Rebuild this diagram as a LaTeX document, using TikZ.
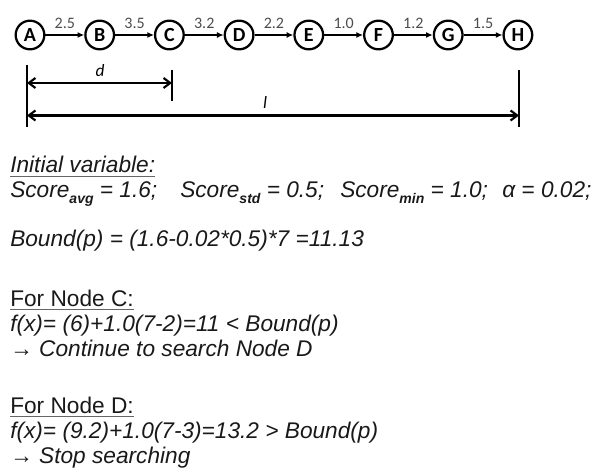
\documentclass[tikz,border=0pt]{standalone}
\usepackage{fontspec}
\setmainfont{Liberation Sans}
\newfontfamily\calibri{Carlito}
\usetikzlibrary{arrows.meta}

\newcommand\scoresub[1]{\raisebox{-4pt}{\fontsize{10.5}{10.5}\selectfont\bfseries #1}}

\begin{document}
\begin{tikzpicture}[
    x=0.75pt, y=-0.75pt,
    station/.style={circle, draw, line width=1.7pt, minimum size=21.5pt, inner sep=0pt, font=\calibri\bfseries\fontsize{15}{15}\selectfont},
    hop/.style={-{Latex[length=5pt,width=4.5pt]}, line width=1pt},
    weight/.style={inner sep=0pt, text=black!70, font=\calibri\fontsize{12}{12}\selectfont},
    dim/.style={{Straight Barb[length=5pt,width=7.5pt]}-{Straight Barb[length=5pt,width=7.5pt]}, line width=1.6pt},
    bar/.style={line width=1.7pt},
    dimlabel/.style={inner sep=0pt, font=\calibri\itshape\fontsize{13}{13}\selectfont},
    txt/.style={anchor=base west, inner sep=0pt, text=black!90, font=\fontsize{17}{17}\selectfont\itshape},
    heading/.style={txt, font=\fontsize{17}{17}\selectfont\upshape},
    uline/.style={line width=1pt, black!60}
]
    \useasboundingbox (0,0) rectangle (600,474);

    % Path nodes
    \foreach \n [count=\i from 0] in {A,B,C,D,E,F,G,H}
        \node[station] (\n) at ({30+69.7*\i},35) {\n};

    % Path edges
    \foreach \a/\b/\w in {A/B/2.5, B/C/3.5, C/D/3.2, D/E/2.2, E/F/1.0, F/G/1.2, G/H/1.5}
        \draw[hop] (\a) -- node[weight, above=4.5pt] {\w} (\b);

    % Distances d and l
    \coordinate (startTop) at (27,65);
    \coordinate (startBot) at (27,127);
    \coordinate (cTop) at (172,70);
    \coordinate (cBot) at (172,101);
    \coordinate (hTop) at (519,70);
    \coordinate (hBot) at (519,127);
    \coordinate (dFrom) at (27,83);
    \coordinate (dTo) at (172,83);
    \coordinate (lFrom) at (27,115.5);
    \coordinate (lTo) at (519,115.5);
    \draw[bar] (startTop) -- (startBot);
    \draw[bar] (cTop) -- (cBot);
    \draw[bar] (hTop) -- (hBot);
    \draw[dim] (dFrom) -- (dTo);
    \draw[dim] (lFrom) -- (lTo);
    \node[dimlabel] (dlbl) at (100,71) {d};
    \node[dimlabel] (llbl) at (265,102) {l};

    % Initial variables
    \node[txt] (init) at (10,173) {Initial variable:};
    \draw[uline] ([yshift=-2.5pt]init.base west) -- ([yshift=-2.5pt]init.base east);
    \node[txt] (avg) at (10,198) {Score\scoresub{avg} = 1.6;};
    \node[txt] (std) at (180,198) {Score\scoresub{std} = 0.5;};
    \node[txt] (min) at (340,198) {Score\scoresub{min} = 1.0;};
    \node[txt] (alpha) at (502,198) {α = 0.02;};
    \node[txt] (bound) at (10,247) {Bound(p) = (1.6-0.02*0.5)*7 =11.13};

    % Node C
    \node[heading] (forC) at (10,306) {For Node C:};
    \draw[uline] ([yshift=-2.5pt]forC.base west) -- ([yshift=-2.5pt]forC.base east);
    \node[txt] (fC) at (10,331) {f(x)= (6)+1.0(7-2)=11 < Bound(p)};
    \node[txt] (goC) at (10,356) {→ Continue to search Node D};

    % Node D
    \node[heading] (forD) at (10,413) {For Node D:};
    \draw[uline] ([yshift=-2.5pt]forD.base west) -- ([yshift=-2.5pt]forD.base east);
    \node[txt] (fD) at (10,438) {f(x)= (9.2)+1.0(7-3)=13.2 > Bound(p)};
    \node[txt] (goD) at (10,463) {→ Stop searching};
\end{tikzpicture}
\end{document}
